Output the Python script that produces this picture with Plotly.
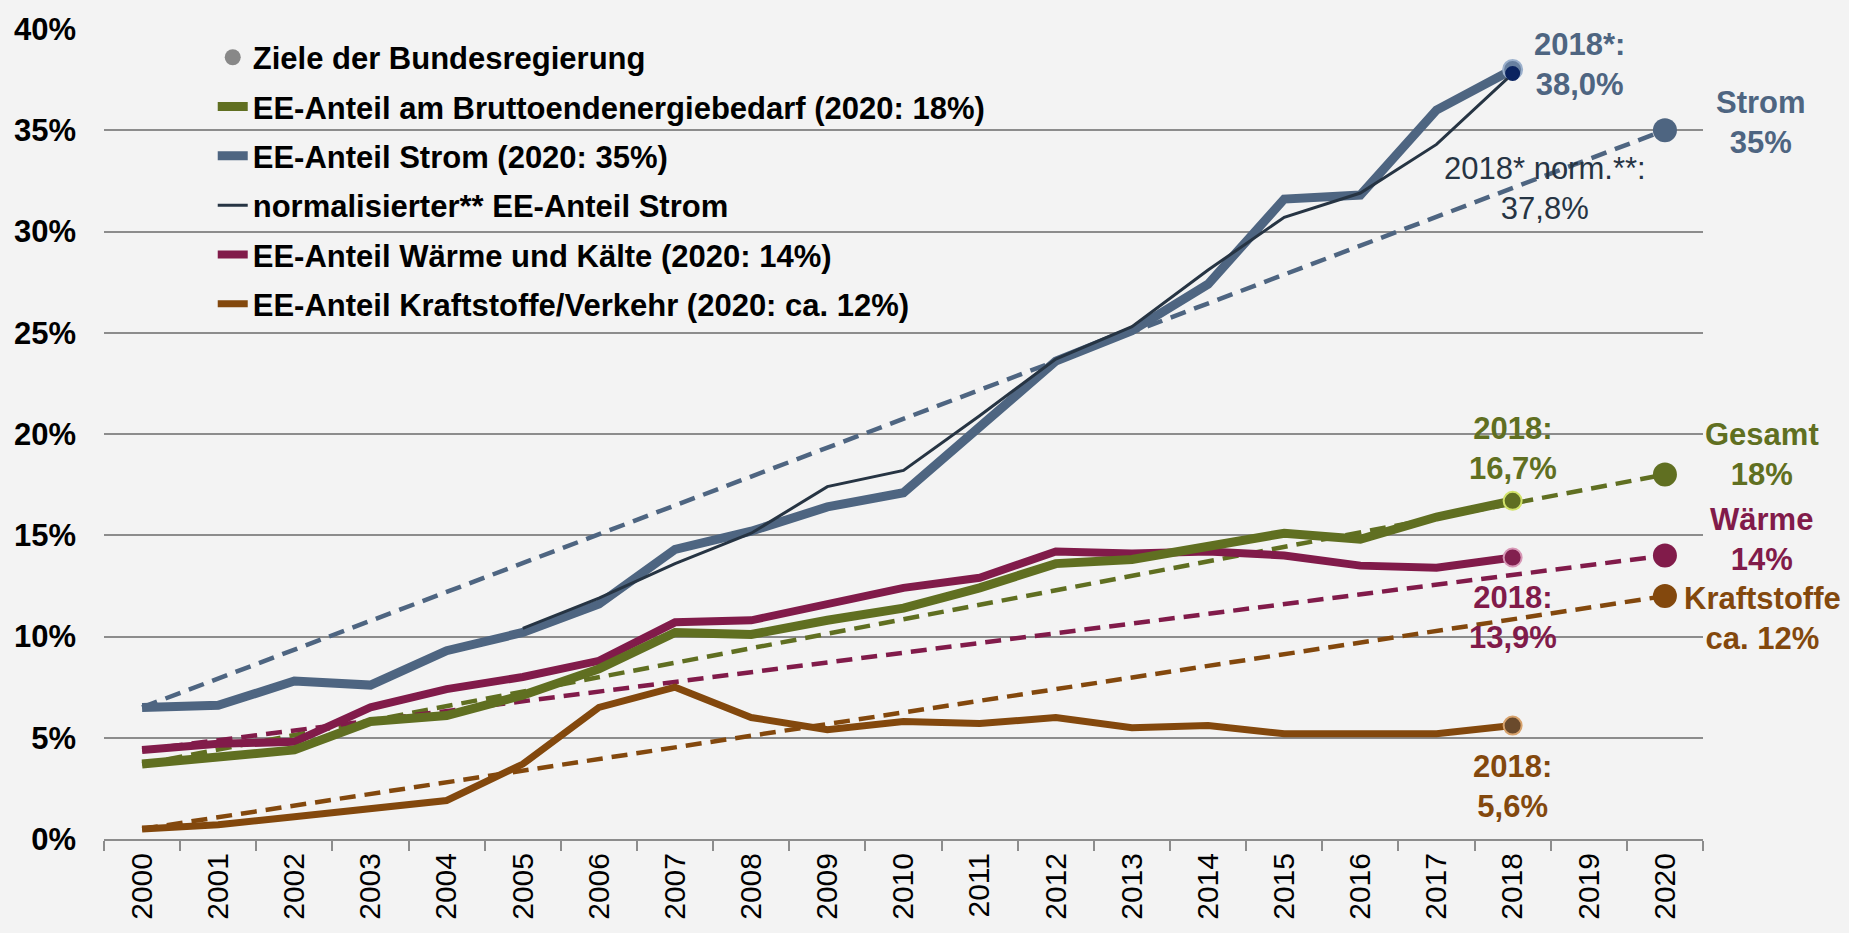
import plotly.graph_objects as go

# ---------------- data ----------------
years = [str(y) for y in range(2000, 2021)]          # x categories
hist_years = [str(y) for y in range(2000, 2019)]     # years with measured values
target_year = "2020"

gesamt = [3.7, 4.0, 4.4, 5.8, 6.1, 7.1, 8.4, 10.2, 10.1, 10.8, 11.4, 12.4, 13.6, 13.8, 14.4, 15.1, 14.8, 15.9, 16.7]
strom = [6.5, 6.6, 7.8, 7.6, 9.3, 10.2, 11.6, 14.3, 15.2, 16.4, 17.1, 20.3, 23.6, 25.1, 27.4, 31.6, 31.8, 36.0, 38.0]
strom_norm = [None, None, None, None, None, 10.4, 11.9, 13.6, 15.1, 17.4, 18.2, 20.9, 23.7, 25.3, 28.1, 30.7, 31.9, 34.3, 37.8]
waerme = [4.4, 4.7, 4.8, 6.5, 7.4, 8.0, 8.8, 10.7, 10.8, 11.6, 12.4, 12.9, 14.2, 14.1, 14.2, 14.0, 13.5, 13.4, 13.9]
verkehr = [0.5, 0.7, 1.1, 1.5, 1.9, 3.7, 6.5, 7.5, 6.0, 5.4, 5.8, 5.7, 6.0, 5.5, 5.6, 5.2, 5.2, 5.2, 5.6]

target_gesamt = 18
target_strom = 35
target_waerme = 14
target_verkehr = 12

legend_names = [
    "Ziele der Bundesregierung",
    "EE-Anteil am Bruttoendenergiebedarf (2020: 18%)",
    "EE-Anteil Strom (2020: 35%)",
    "normalisierter** EE-Anteil Strom",
    "EE-Anteil Wärme und Kälte (2020: 14%)",
    "EE-Anteil Kraftstoffe/Verkehr (2020: ca. 12%)",
]
label_strom_2018 = "2018*:<br>38,0%"
label_norm_2018 = "2018* norm.**:<br>37,8%"
label_gesamt_2018 = "2018:<br>16,7%"
label_waerme_2018 = "2018:<br>13,9%"
label_verkehr_2018 = "2018:<br>5,6%"
label_strom_target = "Strom<br>35%"
label_gesamt_target = "Gesamt<br>18%"
label_waerme_target = "Wärme<br>14%"
label_verkehr_target = "Kraftstoffe<br>ca. 12%"

# ---------------- style ----------------
C_GREEN = "#606f21"
C_BLUE = "#4e6581"
C_DARK = "#263443"
C_PURPLE = "#811b4a"
C_BROWN = "#83480d"
BG = "#f3f3f3"
GRID = "#8c8c8c"
FONT = "Liberation Sans"

fig = go.Figure()

# dashed target paths (first measured value -> 2020 target)
for series, target, color in [
    (strom, target_strom, C_BLUE),
    (gesamt, target_gesamt, C_GREEN),
    (waerme, target_waerme, C_PURPLE),
    (verkehr, target_verkehr, C_BROWN),
]:
    fig.add_trace(go.Scatter(
        x=[hist_years[0], target_year], y=[series[0], target],
        mode="lines", line=dict(color=color, width=4.5, dash="16px,9px"),
        showlegend=False, hoverinfo="skip"))

# legend entry for targets
fig.add_trace(go.Scatter(
    x=[None], y=[None], mode="markers", name=legend_names[0], legendgroup="g0",
    marker=dict(color="#888888", size=27), legendrank=1))

# measured series
fig.add_trace(go.Scatter(x=hist_years, y=verkehr, mode="lines", name=legend_names[5], legendgroup="g5",
                         line=dict(color=C_BROWN, width=7), legendrank=6))
fig.add_trace(go.Scatter(x=hist_years, y=waerme, mode="lines", name=legend_names[4], legendgroup="g4",
                         line=dict(color=C_PURPLE, width=8), legendrank=5))
fig.add_trace(go.Scatter(x=hist_years, y=gesamt, mode="lines", name=legend_names[1], legendgroup="g1",
                         line=dict(color=C_GREEN, width=9), legendrank=2))
fig.add_trace(go.Scatter(x=hist_years, y=strom, mode="lines", name=legend_names[2], legendgroup="g2",
                         line=dict(color=C_BLUE, width=9), legendrank=3))
fig.add_trace(go.Scatter(x=hist_years, y=strom_norm, mode="lines", name=legend_names[3], legendgroup="g3",
                         line=dict(color=C_DARK, width=3), legendrank=4))

# 2018 end markers
for series, fill, edge, size in [
    (verkehr, "#6a4a2c", "#d8a36d", 18),
    (waerme, "#82204f", "#d797b6", 18),
    (gesamt, "#5f6e22", "#d2e36a", 18),
    (strom, "#6880a0", "#9bb0cc", 19),
    (strom_norm, "#0b2460", "#0b2460", 13),
]:
    fig.add_trace(go.Scatter(x=[hist_years[-1]], y=[series[-1]], mode="markers",
                             marker=dict(color=fill, size=size, line=dict(color=edge, width=2)),
                             showlegend=False, hoverinfo="skip"))

# 2020 target markers
fig.add_trace(go.Scatter(
    x=[target_year] * 4,
    y=[target_strom, target_gesamt, target_waerme, target_verkehr],
    mode="markers", marker=dict(color=[C_BLUE, C_GREEN, C_PURPLE, C_BROWN], size=24),
    showlegend=False, hoverinfo="skip"))

# ---------------- annotations ----------------
# category axes take annotation positions as category index
i_last = years.index(hist_years[-1])
i_target = years.index(target_year)


def ann(xi, y, text, color, xs, ys, bold=True):
    fig.add_annotation(x=xi, y=y, text=text, showarrow=False, xanchor="center", yanchor="middle",
                       xshift=xs, yshift=ys, align="center",
                       font=dict(family=FONT, size=31, color=color, weight="bold" if bold else "normal"))


ann(i_last, strom[-1], label_strom_2018, C_BLUE, 67, 5)
ann(i_last, strom_norm[-1], label_norm_2018, C_DARK, 32, -115, bold=False)
ann(i_last, gesamt[-1], label_gesamt_2018, C_GREEN, 0, 52)
ann(i_last, waerme[-1], label_waerme_2018, C_PURPLE, 0, -60)
ann(i_last, verkehr[-1], label_verkehr_2018, C_BROWN, 0, -61)
ann(i_target, target_strom, label_strom_target, C_BLUE, 96, 8)
ann(i_target, target_gesamt, label_gesamt_target, C_GREEN, 97, 20)
ann(i_target, target_waerme, label_waerme_target, C_PURPLE, 97, 16)
ann(i_target, target_verkehr, label_verkehr_target, C_BROWN, 98, -22)

fig.update_layout(
    width=1849, height=933,
    margin=dict(l=104, r=146, t=21, b=94),
    paper_bgcolor=BG, plot_bgcolor=BG,
    font=dict(family=FONT, color="#000000"),
    showlegend=True,
    legend=dict(x=0.068, y=0.998, xanchor="left", yanchor="top",
                bgcolor="rgba(0,0,0,0)", font=dict(family=FONT, size=31, color="#000000", weight="bold"),
                tracegroupgap=6),
    xaxis=dict(type="category", categoryorder="array", categoryarray=years,
               range=[-0.5, len(years) - 0.5],
               tickmode="array", tickvals=years, ticktext=years,
               tickson="boundaries", ticks="outside", ticklen=10, tickwidth=2, tickcolor=GRID,
               showline=True, linecolor=GRID, linewidth=2, showgrid=False,
               tickangle=-90, tickfont=dict(family=FONT, size=30, color="#000000")),
    yaxis=dict(range=[0, 40], dtick=5, tick0=0, ticksuffix="%",
               showgrid=True, gridcolor=GRID, gridwidth=2, zeroline=False, showline=False,
               ticks="", ticklabelstandoff=27,
               tickfont=dict(family=FONT, size=31, color="#000000", weight="bold")),
)

fig.write_html("out.html",
               config={"displayModeBar": False},
               post_script="document.body.style.margin='0';document.body.style.overflow='hidden';"
                           "document.body.style.background='#f3f3f3';")
